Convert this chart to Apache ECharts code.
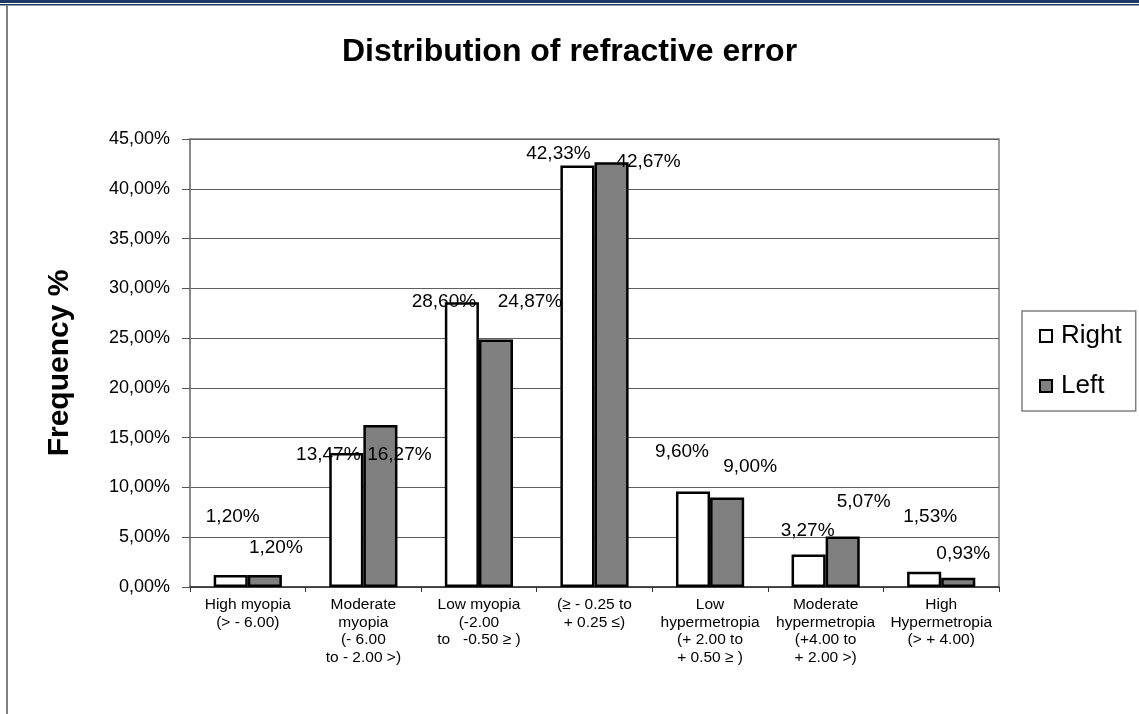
<!DOCTYPE html>
<html>
<head>
<meta charset="utf-8">
<script src="https://cdn.jsdelivr.net/npm/echarts@6/dist/echarts.min.js"></script>
<style>
  html, body { margin: 0; padding: 0; background: #fff; }
  #main { width: 1139px; height: 714px; }
</style>
</head>
<body>
<div id="main"></div>
<script>
// categories of refractive error
var categories = [
  "High myopia\n(> - 6.00)",
  "Moderate\nmyopia\n(- 6.00\nto - 2.00 >)",
  "Low myopia\n(-2.00\nto   -0.50 \u2265 )",
  "(\u2265 - 0.25 to\n+ 0.25 \u2264)",
  "Low\nhypermetropia\n(+ 2.00 to\n+ 0.50 \u2265 )",
  "Moderate\nhypermetropia\n(+4.00 to\n+ 2.00 >)",
  "High\nHypermetropia\n(> + 4.00)"
];
// frequency %
var rightEye = [1.20, 13.47, 28.60, 42.33, 9.60, 3.27, 1.53];
var leftEye = [1.20, 16.27, 24.87, 42.67, 9.00, 5.07, 0.93];
var yTicks = { min: 0, max: 45, step: 5 };

// label nudges (the labels were hand-placed in the original)
var rightLabelShift = [[2, -44], [-18, 16], [-18, 14], [-19, 3], [-11, -25], [-1, -9], [6, -41]];
var leftLabelShift = [[11, -13], [19, 44], [34, -23], [37, 14], [23, -16], [21, -20], [5, -9]];

function pct(v) {
  return v.toFixed(2).replace(".", ",") + "%";
}

function withLabels(values, shifts) {
  return values.map(function (v, i) {
    return { value: v, label: { offset: shifts[i] } };
  });
}

var chart = echarts.init(document.getElementById("main"));
var font = "Liberation Sans, Arial, sans-serif";

var barLabel = {
  show: true,
  position: "top",
  color: "#000",
  fontSize: 19,
  fontFamily: font,
  formatter: function (p) { return pct(p.value); }
};

chart.setOption({
  animation: false,
  backgroundColor: "#fff",
  textStyle: { fontFamily: font },
  title: {
    text: "Distribution of refractive error",
    left: "center",
    top: 31,
    textStyle: { fontSize: 32, fontWeight: "bold", color: "#000", fontFamily: font }
  },
  legend: {
    orient: "vertical",
    left: 1022,
    top: 311,
    padding: [12, 14, 12, 17],
    itemGap: 24,
    itemWidth: 12,
    itemHeight: 12,
    icon: "rect",
    borderColor: "#808080",
    borderWidth: 1.5,
    itemStyle: { borderWidth: 2, borderColor: "#000" },
    textStyle: { fontSize: 26, color: "#000", fontFamily: font, padding: [0, 0, 0, 4] },
    data: ["Right", "Left"]
  },
  grid: {
    left: 190,
    top: 139,
    right: 140,
    bottom: 127,
    show: true,
    borderColor: "#808080",
    borderWidth: 1.5
  },
  xAxis: {
    type: "category",
    data: categories,
    axisLine: { lineStyle: { color: "#333", width: 1.5 } },
    axisTick: { show: true, length: 5, lineStyle: { color: "#333" } },
    axisLabel: {
      interval: 0,
      margin: 9,
      color: "#000",
      fontSize: 15.5,
      lineHeight: 17.5,
      fontFamily: font
    }
  },
  yAxis: {
    type: "value",
    min: yTicks.min,
    max: yTicks.max,
    interval: yTicks.step,
    name: "Frequency %",
    nameLocation: "middle",
    nameGap: 115,
    nameRotate: 90,
    nameTextStyle: { fontSize: 30, fontWeight: "bold", color: "#000", fontFamily: font },
    axisLine: { show: true, lineStyle: { color: "#808080", width: 1.5 } },
    axisTick: { show: true, length: 8, lineStyle: { color: "#555" } },
    axisLabel: {
      margin: 20,
      color: "#000",
      fontSize: 18,
      fontFamily: font,
      formatter: function (v) { return pct(v); }
    },
    splitLine: { show: true, lineStyle: { color: "#5e5e5e", width: 1 } }
  },
  series: [
    {
      name: "Right",
      type: "bar",
      data: withLabels(rightEye, rightLabelShift),
      barGap: "0%",
      barCategoryGap: "41%",
      itemStyle: { color: "#ffffff", borderColor: "#000", borderWidth: 2.5 },
      label: barLabel
    },
    {
      name: "Left",
      type: "bar",
      data: withLabels(leftEye, leftLabelShift),
      barGap: "0%",
      barCategoryGap: "41%",
      itemStyle: { color: "#808080", borderColor: "#000", borderWidth: 2.5 },
      label: barLabel
    }
  ],
  graphic: [
    { type: "rect", shape: { x: 0, y: 0, width: 1139, height: 3 }, style: { fill: "#1f3864" }, silent: true },
    { type: "rect", shape: { x: 0, y: 4, width: 1139, height: 1.5 }, style: { fill: "#1f3864" }, silent: true },
    { type: "rect", shape: { x: 6, y: 5, width: 2, height: 709 }, style: { fill: "#808080" }, silent: true }
  ]
});
</script>
</body>
</html>
